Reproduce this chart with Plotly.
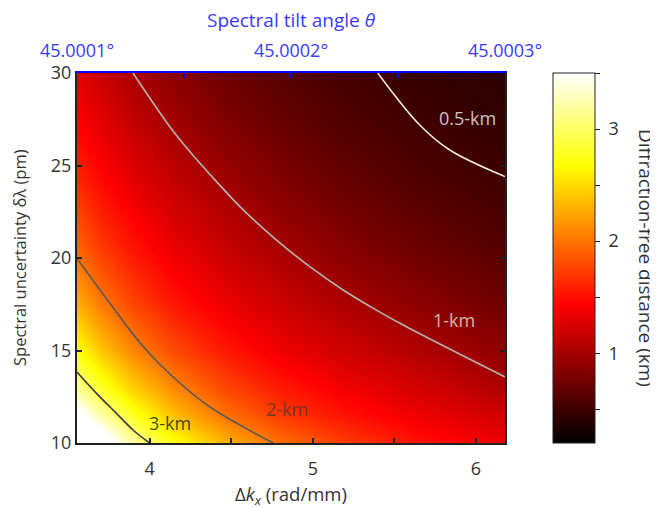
import plotly.graph_objects as go

# ---- data ----
dkx = [3.555, 3.7, 3.9, 4.15, 4.45, 4.8, 5.2, 5.65, 6.178]          # rad/mm
dlam = [10, 11.5, 13, 15, 17.5, 20.5, 24, 27, 30]                     # pm
dist_km = [
    [4.21, 3.74, 3.20, 2.72, 2.33, 1.97, 1.72, 1.52, 1.36],
    [3.62, 3.21, 2.78, 2.36, 2.00, 1.72, 1.52, 1.36, 1.21],
    [3.16, 2.81, 2.44, 2.10, 1.79, 1.56, 1.38, 1.23, 1.05],
    [2.71, 2.40, 2.09, 1.80, 1.56, 1.37, 1.21, 1.06, 0.89],
    [2.29, 2.03, 1.77, 1.54, 1.36, 1.19, 1.03, 0.88, 0.74],
    [1.93, 1.72, 1.53, 1.34, 1.17, 1.01, 0.85, 0.72, 0.61],
    [1.64, 1.48, 1.32, 1.15, 0.99, 0.83, 0.70, 0.59, 0.51],
    [1.46, 1.32, 1.16, 1.00, 0.84, 0.71, 0.60, 0.52, 0.45],
    [1.30, 1.17, 1.02, 0.87, 0.73, 0.62, 0.53, 0.46, 0.40],
]

c3_x = [3.555, 3.676, 3.798, 3.900, 4.0]
c3_y = [13.84, 12.67, 11.59, 10.69, 10.0]
c2_x = [3.555, 3.757, 3.962, 4.166, 4.369, 4.574, 4.758]
c2_y = [19.98, 17.55, 15.20, 13.39, 11.95, 10.87, 10.0]
c1_x = [3.898, 4.123, 4.237, 4.410, 4.574, 4.778, 4.982, 5.186, 5.390, 5.574, 6.178]
c1_y = [30, 27.11, 25.85, 24.13, 22.60, 20.97, 19.53, 18.27, 17.18, 16.28, 13.57]
c05_x = [5.398, 5.654, 5.837, 6.178]
c05_y = [30, 27.2, 25.85, 24.4]

contour_labels = ["3-km", "2-km", "1-km", "0.5-km"]
label_x = [4.123, 4.839, 5.868, 5.947]
label_y = [11.07, 11.82, 16.64, 27.58]

x_ticks = [4, 5, 6]
x_minor = [4.5, 5.5]
y_ticks = [10, 15, 20, 25, 30]
theta_ticks = [45.0001, 45.0002, 45.0003]
theta_ticktext = ["45.0001°", "45.0002°", "45.0003°"]
theta_minor = [45.00015, 45.00025]
cb_tick0 = 1
cb_dtick = 0.5

FONT = "Open Sans"
TXT = "#333333"
BLUE_LINE = "#0000ff"
BLUE_TXT = "#3a3aff"

hot = [[0.0, "rgb(0,0,0)"], [0.375, "rgb(255,0,0)"],
       [0.75, "rgb(255,255,0)"], [1.0, "rgb(255,255,255)"]]

fig = go.Figure()
fig.add_trace(go.Heatmap(
    x=dkx, y=dlam, z=dist_km, zmin=0.2, zmax=3.5, zsmooth="best",
    colorscale=hot,
    colorbar=dict(
        x=1.112, xanchor="left", xpad=0, y=0.5, yanchor="middle", ypad=0,
        len=1, lenmode="fraction", thickness=42, thicknessmode="pixels",
        outlinewidth=1, outlinecolor="#222222",
        ticks="outside", ticklen=5, tickcolor="#222222",
        tickmode="linear", tick0=cb_tick0, dtick=cb_dtick, ticklabelstep=2,
        tickprefix="\u2009\u200a",
        tickfont=dict(family=FONT, size=18, color=TXT),
    ),
    hoverinfo="skip",
))

line_styles = [("#3a3a3a", c3_x, c3_y), ("#575757", c2_x, c2_y),
               ("#b4b4b4", c1_x, c1_y), ("#f2ecd2", c05_x, c05_y)]
for col, xs, ys in line_styles:
    fig.add_trace(go.Scatter(x=xs, y=ys, mode="lines",
                             line=dict(color=col, width=1.6, shape="spline"),
                             showlegend=False, hoverinfo="skip"))

label_colors = ["rgba(40,40,40,0.85)", "rgba(70,55,55,0.75)",
                "rgba(235,225,225,0.8)", "rgba(240,230,230,0.85)"]
for t, lx, ly, lc in zip(contour_labels, label_x, label_y, label_colors):
    fig.add_annotation(x=lx, y=ly, text=t, showarrow=False,
                       font=dict(family=FONT, size=18, color=lc))

# axis / colour-bar titles placed in paper coordinates
fig.add_annotation(x=1.3294, y=0.5, xref="paper", yref="paper",
                   text="Diffraction-free distance (km)", textangle=90,
                   showarrow=False, xanchor="center", yanchor="middle",
                   font=dict(family=FONT, size=19, color=TXT))
fig.add_annotation(x=0.5, y=-0.1405, xref="paper", yref="paper",
                   text="Δ<i>k</i><sub><i>x</i></sub> (rad/mm)",
                   showarrow=False, xanchor="center", yanchor="middle",
                   font=dict(family=FONT, size=18.5, color=TXT))
fig.add_annotation(x=-0.1355, y=0.5, xref="paper", yref="paper",
                   text="Spectral uncertainty δλ (pm)", textangle=-90,
                   showarrow=False, xanchor="center", yanchor="middle",
                   font=dict(family=FONT, size=16.5, color=TXT))
fig.add_annotation(x=0.5, y=1.1432, xref="paper", yref="paper",
                   text="Spectral tilt angle <i>θ</i>",
                   showarrow=False, xanchor="center", yanchor="middle",
                   font=dict(family=FONT, size=19, color=BLUE_TXT))

# dummy trace for the top (angle) axis
fig.add_trace(go.Scatter(x=[theta_ticks[0], theta_ticks[-1]], y=[20, 20],
                         xaxis="x2", mode="markers", marker=dict(opacity=0),
                         showlegend=False, hoverinfo="skip"))

fig.update_layout(
    width=650, height=500,
    margin=dict(l=69, r=153, t=65, b=65, autoexpand=False),
    paper_bgcolor="white", plot_bgcolor="white",
    font=dict(family=FONT, size=18, color=TXT),
    showlegend=False,
    xaxis=dict(
        range=[3.555, 6.178], tickvals=x_ticks, automargin=False,
        ticks="inside", ticklen=5, tickwidth=1.5, tickcolor="#222222",
        minor=dict(tickvals=x_minor, ticks="inside", ticklen=5,
                   tickwidth=1.5, tickcolor="#222222", showgrid=False),
        showline=True, linecolor="#222222", linewidth=2, mirror=False,
        showgrid=False, zeroline=False, ticklabelstandoff=8,
        tickfont=dict(family=FONT, size=18, color=TXT),
    ),
    xaxis2=dict(
        overlaying="x", side="top", anchor="y", automargin=False,
        range=[45.0001, 45.0003], tickvals=theta_ticks, ticktext=theta_ticktext,
        ticks="inside", ticklen=5, tickwidth=1.5, tickcolor=BLUE_LINE,
        minor=dict(tickvals=theta_minor, ticks="inside", ticklen=5,
                   tickwidth=1.5, tickcolor=BLUE_LINE, showgrid=False),
        showline=True, linecolor=BLUE_LINE, linewidth=2,
        showgrid=False, zeroline=False, ticklabelstandoff=7,
        tickfont=dict(family=FONT, size=18, color=BLUE_TXT),
    ),
    yaxis=dict(
        range=[10, 30], tickvals=y_ticks, automargin=False,
        ticks="inside", ticklen=5, tickwidth=1.5, tickcolor="#222222",
        showline=True, linecolor="#222222", linewidth=2, mirror="ticks",
        showgrid=False, zeroline=False, ticklabelstandoff=0,
        tickfont=dict(family=FONT, size=18, color=TXT),
    ),
)

fig.write_html("out.html")
